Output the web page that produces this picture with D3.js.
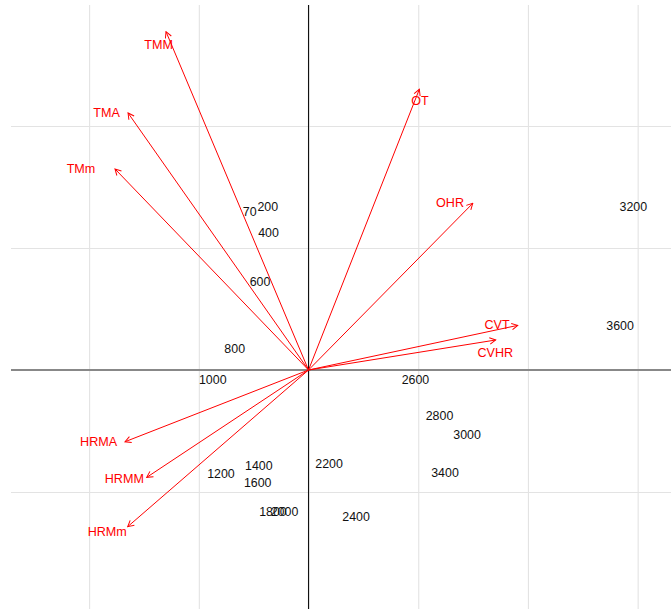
<!DOCTYPE html>
<html>
<head>
<meta charset="utf-8">
<script src="https://cdn.jsdelivr.net/npm/d3@7"></script>
<style>
  html, body { margin: 0; padding: 0; background: #ffffff; }
  svg { display: block; }
</style>
</head>
<body>
<div id="chart"></div>
<script>
// Variable loadings (arrow tips) on the first two components
const variables = ["TMM", "TMA", "TMm", "OT", "OHR", "CVT", "CVHR", "HRMA", "HRMM", "HRMm"];
const loadX = [-1.299, -1.645, -1.764, 1.010, 1.497, 1.907, 1.706, -1.673, -1.475, -1.648];
const loadY = [2.773, 2.107, 1.648, 2.301, 1.366, 0.366, 0.246, -0.588, -0.880, -1.284];
// Repelled label positions for the variable names
const varLabelX = [-1.367, -1.841, -2.074, 1.016, 1.290, 1.718, 1.703, -1.913, -1.679, -1.835];
const varLabelY = [2.672, 2.115, 1.656, 2.207, 1.377, 0.377, 0.145, -0.582, -0.893, -1.320];

// Site scores, labelled by altitude (m)
const sites = ["70", "200", "400", "600", "800", "1000", "1200", "1400", "1600", "1800",
               "2000", "2200", "2400", "2600", "2800", "3000", "3200", "3400", "3600"];
const scoreX = [-0.536, -0.371, -0.365, -0.442, -0.673, -0.873, -0.798, -0.453, -0.463, -0.324,
                -0.219, 0.187, 0.433, 0.975, 1.194, 1.445, 2.961, 1.244, 2.840];
const scoreY = [1.303, 1.339, 1.125, 0.724, 0.178, -0.074, -0.852, -0.779, -0.920, -1.161,
                -1.161, -0.765, -1.202, -0.082, -0.375, -0.525, 1.344, -0.839, 0.361];

const xTicks = [-2, -1, 0, 1, 2, 3];
const yTicks = [-1, 0, 1, 2];

const W = 671, H = 609;
const panel = { left: 11, top: 5, right: 671, bottom: 609 };

const x = d3.scaleLinear().domain([-2.712, 3.304]).range([panel.left, panel.right]);
const y = d3.scaleLinear().domain([-1.959, 2.992]).range([panel.bottom, panel.top]);

const svg = d3.select("#chart").append("svg")
  .attr("width", W).attr("height", H)
  .attr("font-family", "'Liberation Sans', Arial, sans-serif");

svg.append("defs").append("marker")
  .attr("id", "head")
  .attr("markerUnits", "userSpaceOnUse")
  .attr("viewBox", "-7 -4 8 8")
  .attr("refX", 0).attr("refY", 0)
  .attr("markerWidth", 8).attr("markerHeight", 8)
  .attr("orient", "auto")
  .append("path")
  .attr("d", "M-6,-3.2L0,0L-6,3.2")
  .attr("fill", "none")
  .attr("stroke", "#ff0000")
  .attr("stroke-width", 1);

// Grid lines via axes with full-length ticks
const gx = svg.append("g")
  .attr("transform", `translate(0,${panel.bottom})`)
  .call(d3.axisBottom(x).tickValues(xTicks).tickSize(-(panel.bottom - panel.top)).tickFormat(""));
const gy = svg.append("g")
  .attr("transform", `translate(${panel.left},0)`)
  .call(d3.axisLeft(y).tickValues(yTicks).tickSize(-(panel.right - panel.left)).tickFormat(""));
[gx, gy].forEach(g => {
  g.select(".domain").remove();
  g.selectAll(".tick line").attr("stroke", "#e3e3e3").attr("stroke-width", 1.1);
});

// Zero reference lines
svg.append("line")
  .attr("x1", panel.left).attr("x2", panel.right)
  .attr("y1", y(0)).attr("y2", y(0))
  .attr("stroke", "#888888").attr("stroke-width", 1.8);
svg.append("line")
  .attr("x1", x(0)).attr("x2", x(0))
  .attr("y1", panel.top).attr("y2", panel.bottom)
  .attr("stroke", "#111111").attr("stroke-width", 1.1);

// Site labels
svg.append("g").selectAll("text")
  .data(sites)
  .join("text")
  .attr("x", (d, i) => x(scoreX[i]))
  .attr("y", (d, i) => y(scoreY[i]))
  .attr("dy", "0.36em")
  .attr("text-anchor", "middle")
  .attr("font-size", 12.4)
  .attr("fill", "#111111")
  .text(d => d);

// Variable arrows
svg.append("g").selectAll("line")
  .data(variables)
  .join("line")
  .attr("x1", x(0)).attr("y1", y(0))
  .attr("x2", (d, i) => x(loadX[i]))
  .attr("y2", (d, i) => y(loadY[i]))
  .attr("stroke", "#ff0000")
  .attr("stroke-width", 1)
  .attr("marker-end", "url(#head)");

// Variable names
svg.append("g").selectAll("text")
  .data(variables)
  .join("text")
  .attr("x", (d, i) => x(varLabelX[i]))
  .attr("y", (d, i) => y(varLabelY[i]))
  .attr("dy", "0.36em")
  .attr("text-anchor", "middle")
  .attr("font-size", 12.6)
  .attr("fill", "#ff0000")
  .text(d => d);
</script>
</body>
</html>
